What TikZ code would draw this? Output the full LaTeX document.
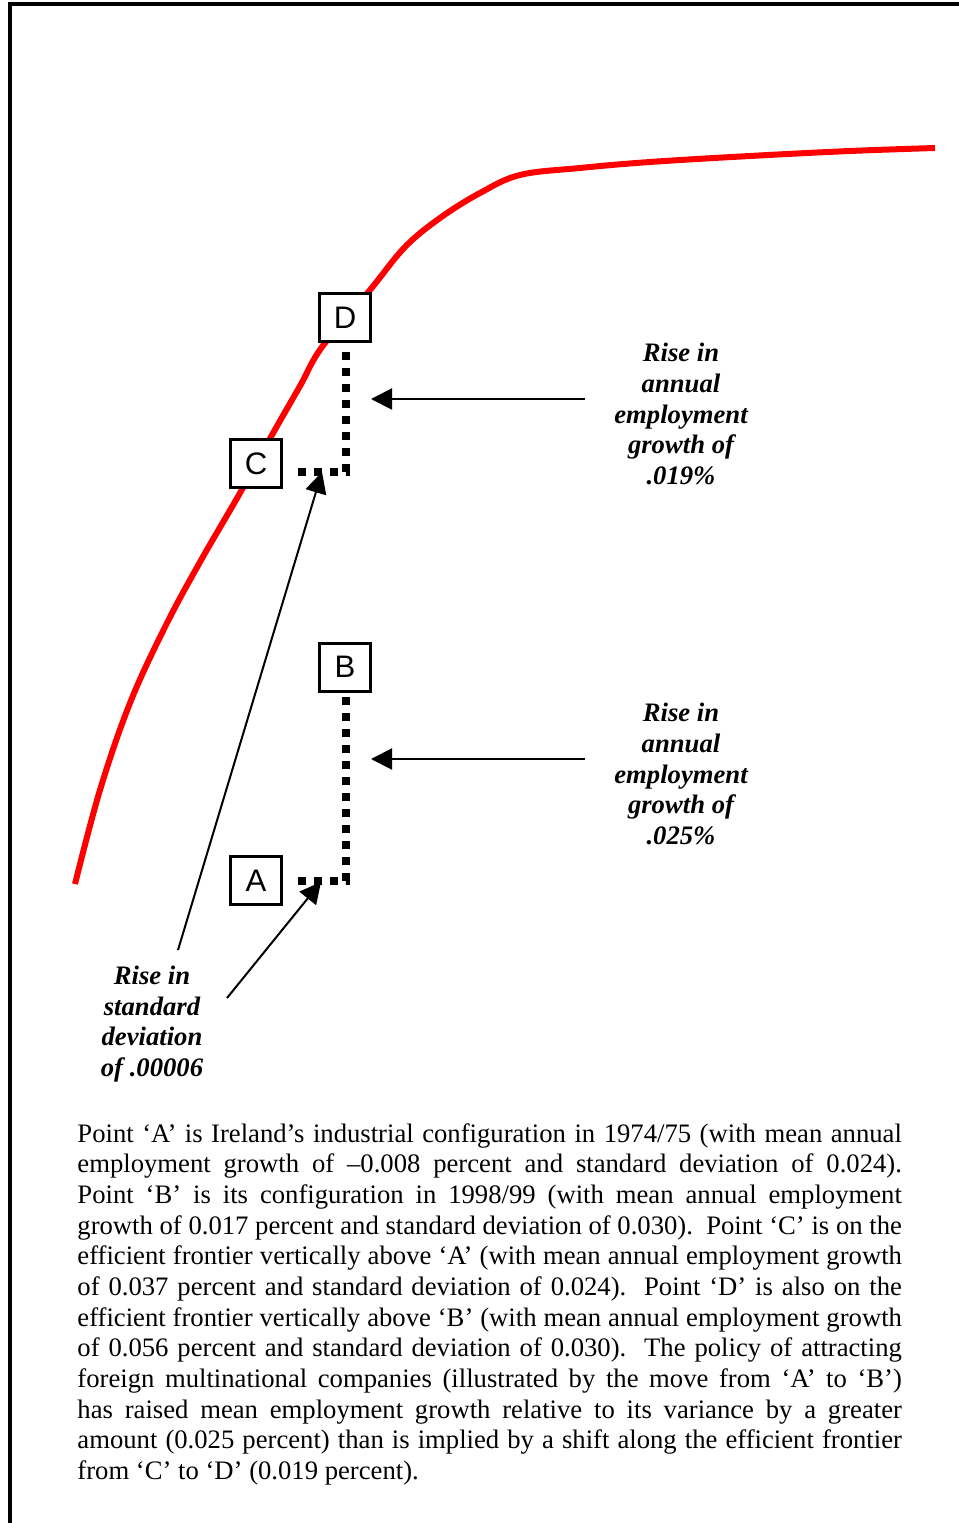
\documentclass[tikz,border=0pt]{standalone}
\usepackage{fontspec}
\setmainfont{Liberation Serif}
\newfontfamily\boxfont{Liberation Sans}
\usetikzlibrary{arrows.meta}
\begin{document}
\begin{tikzpicture}[x=0.45pt,y=-0.45pt,
  ptbox/.style={draw, line width=1.35pt, fill=white, minimum width=22.95pt,
    minimum height=21.6pt, inner sep=0pt, font=\boxfont\fontsize{14}{14}\selectfont},
  dotline/.style={line width=3.6pt, line cap=butt, dash pattern=on 3.6pt off 3.6pt},
  arr/.style={line width=0.9pt, -{Triangle[length=9.5pt,width=9.5pt]}},
  lab/.style={align=center, font=\bfseries\itshape\fontsize{12}{13.8}\selectfont, inner sep=0pt},
  frontier/.style={red, line width=2.7pt},
  frame/.style={line width=1.8pt}]
\useasboundingbox (0,0) rectangle (959,1523);
% frame (left and top edges)
\draw[frame] (9.7,1523) -- (9.7,4.3) -- (959,4.3);
% efficient frontier
\draw[frontier] plot[smooth, tension=0.6] coordinates {
 (75,884) (100,790) (130,703) (165,627) (200,562) (240,493) (272,435)
 (300,386) (322,347) (370,290) (405,247) (440,218) (480,193) (520,175)
 (580,168) (650,162) (750,156) (850,151) (935,148)};
% points
\node[ptbox] (D) at (345,317.5) {D};
\node[ptbox] (C) at (256,464) {C};
\node[ptbox] (B) at (345,667) {B};
\node[ptbox] (A) at (256,880.5) {A};
% dotted rises
\coordinate (dTop) at (345.5,352);
\coordinate (dCorner) at (345.5,472);
\coordinate (dEnd) at (297,472);
\draw[dotline] (dTop) -- (dCorner) -- (dEnd);
\coordinate (bTop) at (345.5,697);
\coordinate (bCorner) at (345.5,881);
\coordinate (bEnd) at (297,881);
\draw[dotline] (bTop) -- (bCorner) -- (bEnd);
% labels
\node[lab] (L1) at (681,414) {Rise in\\annual\\employment\\growth of\\.019\%};
\node[lab] (L2) at (681,774) {Rise in\\annual\\employment\\growth of\\.025\%};
\node[lab] (L3) at (152,1024) {Rise in\\standard\\deviation\\of .00006};
% arrows
\coordinate (t1) at (585,399);
\coordinate (h1) at (371,399);
\draw[arr] (t1) -- (h1);
\coordinate (t2) at (585,759);
\coordinate (h2) at (371,759);
\draw[arr] (t2) -- (h2);
\coordinate (t3) at (178,950);
\coordinate (h3) at (322,472);
\draw[arr] (t3) -- (h3);
\coordinate (t4) at (227,998);
\coordinate (h4) at (321,882);
\draw[arr] (t4) -- (h4);
% caption
\node[anchor=base west, inner sep=0pt] (cap) at (77,1142) {\parbox[t]{371pt}{\fontsize{12}{13.8}\selectfont
\makebox[\linewidth][s]{Point ‘A’ is Ireland’s industrial configuration in 1974/75 (with mean annual}\\
\makebox[\linewidth][s]{employment growth of –0.008 percent and standard deviation of 0.024).}\\
\makebox[\linewidth][s]{Point ‘B’ is its configuration in 1998/99 (with mean annual employment}\\
\makebox[\linewidth][s]{growth of 0.017 percent and standard deviation of 0.030).\ \ Point ‘C’ is on the}\\
\makebox[\linewidth][s]{efficient frontier vertically above ‘A’ (with mean annual employment growth}\\
\makebox[\linewidth][s]{of 0.037 percent and standard deviation of 0.024).\ \ Point ‘D’ is also on the}\\
\makebox[\linewidth][s]{efficient frontier vertically above ‘B’ (with mean annual employment growth}\\
\makebox[\linewidth][s]{of 0.056 percent and standard deviation of 0.030).\ \ The policy of attracting}\\
\makebox[\linewidth][s]{foreign multinational companies (illustrated by the move from ‘A’ to ‘B’)}\\
\makebox[\linewidth][s]{has raised mean employment growth relative to its variance by a greater}\\
\makebox[\linewidth][s]{amount (0.025 percent) than is implied by a shift along the efficient frontier}\\
from ‘C’ to ‘D’ (0.019 percent).}};
\end{tikzpicture}
\end{document}
